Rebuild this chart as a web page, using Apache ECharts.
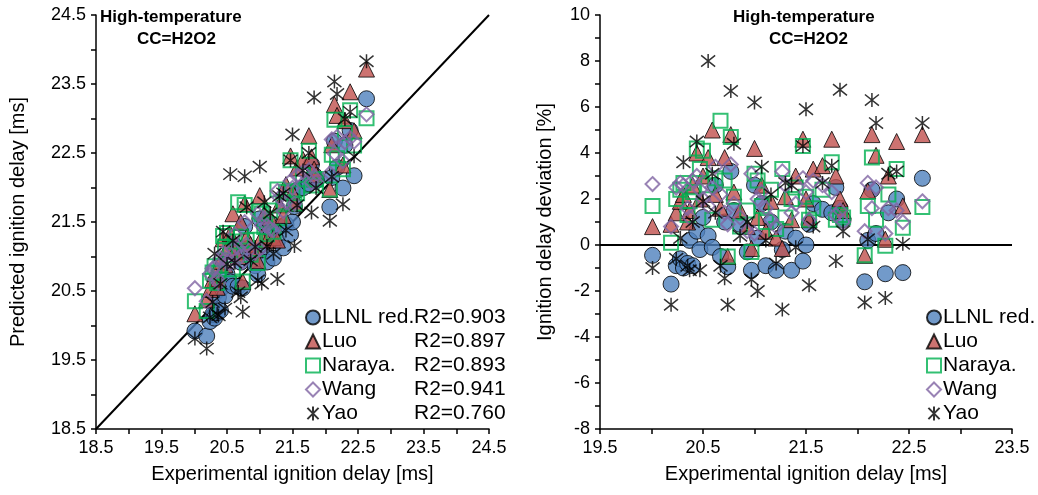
<!DOCTYPE html>
<html>
<head>
<meta charset="utf-8">
<script src="https://cdn.jsdelivr.net/npm/echarts@6/dist/echarts.min.js"></script>
<style>
  html, body { margin: 0; padding: 0; background: #fff; }
  #main { width: 1038px; height: 495px; }
</style>
</head>
<body>
<div id="main"></div>
<script>
// experimental ignition delay of every test point [ms]
var expDelay = [20.01, 20.19, 20.24, 20.28, 20.31, 20.35, 20.37, 20.40, 20.44, 20.47,
  20.50, 20.55, 20.59, 20.62, 20.67, 20.71, 20.74, 20.77, 20.80, 20.86,
  20.93, 20.97, 21.00, 21.03, 21.07, 21.11, 21.16, 21.21, 21.27, 21.30,
  21.36, 21.40, 21.47, 21.50, 21.53, 21.57, 21.66, 21.75, 21.79, 21.83,
  21.86, 22.07, 22.10, 22.14, 22.18, 22.27, 22.30, 22.38, 22.44, 22.63];

// deviation of each mechanism from experiment [%]
var devLLNL = [-0.45, -1.7, -0.9, -0.6, -1.0, -0.8, 0.2, -0.9, 0.6, -0.2,
  1.2, 0.4, -0.1, 2.6, -0.5, 1.0, -0.95, 3.2, 1.5, 0.9,
  -0.3, -1.1, 2.6, 0.3, 1.8, -0.9, 1.0, -1.1, -0.2, 0.6,
  -1.1, 0.3, -0.7, 0.0, 0.9, 1.8, 1.55, 1.4, 2.5, 1.6,
  1.1, -1.6, 0.2, 2.4, 0.5, -1.25, 1.4, 2.0, -1.2, 2.9];
var devLuo = [0.8, 0.9, 1.4, 1.9, 2.2, 1.0, 1.5, 2.6, 4.0, 2.0,
  3.0, 3.8, 5.0, 2.2, 1.6, 3.8, -0.5, 4.8, 2.3, 1.5,
  0.8, -0.15, 4.2, 1.2, 2.6, 0.6, 1.9, 0.3, -0.15, 2.1,
  1.1, 3.0, 4.6, 2.0, 1.1, 3.3, 3.45, 4.6, 3.0, 2.0,
  1.5, -0.45, 2.35, 4.8, 3.9, 0.25, 3.0, 4.5, 1.7, 4.8];
var devNaraya = [1.7, 0.1, 2.0, 2.4, 2.7, 1.3, 1.9, 2.3, 4.2, 3.3,
  4.1, 2.6, 1.1, 2.9, 5.4, 2.8, -0.5, 4.7, 2.1, 0.8,
  1.5, -0.3, 3.1, 2.8, 1.7, 1.0, 2.4, 0.7, 3.3, 1.2,
  2.0, 2.5, 4.3, 2.1, 1.1, 1.6, 2.4, 3.6, 1.1, 1.3,
  1.2, -0.45, 1.7, 3.8, 1.1, -0.03, 2.2, 3.3, 0.75, 1.65];
var devWang = [2.65, 0.8, 2.5, 2.7, 2.6, 1.6, 1.2, 2.8, 3.0, 2.4,
  2.0, 1.7, 2.5, 3.4, 2.2, 1.4, 0.9, 3.5, 1.8, 1.2,
  0.6, 3.1, 0.5, 2.0, 2.3, 1.6, 1.1, 0.8, 3.2, 2.6,
  1.4, 1.8, 2.9, 2.3, 1.1, 2.8, 2.6, 2.3, 1.3, 1.5,
  1.0, 0.6, 2.7, 1.6, 2.5, 0.5, 1.6, 1.5, 1.0, 1.9];
var devYao = [-1.0, -2.6, -0.6, 0.3, 3.6, -0.9, -1.1, 1.0, 4.5, -1.1,
  1.9, 8.0, 3.1, 1.4, -0.9, -1.45, -2.6, 6.7, 4.4, 0.4,
  1.0, -1.5, 6.2, -2.0, 3.4, 0.2, 2.2, -0.8, -2.8, 2.7,
  2.6, -0.1, 4.3, 5.9, -1.75, 0.8, 2.7, 3.45, -0.7, 6.75,
  0.6, -2.5, 0.25, 6.3, 5.3, -2.3, 3.1, 3.2, 0.05, 5.3];

var models = ["LLNL red.", "Luo", "Naraya.", "Wang", "Yao"];
var r2 = ["0.903", "0.897", "0.893", "0.941", "0.760"];
var devs = [devLLNL, devLuo, devNaraya, devWang, devYao];

var parityLine = [[18.5, 18.5], [24.5, 24.5]];
var zeroLine = [[19.5, 0], [23.5, 0]];

var FONT = "Liberation Sans";

// marker look for every mechanism
var looks = [
  { symbol: "circle", size: 16, itemStyle: { color: "#4F81BD", borderColor: "#000", borderWidth: 1 } },
  { symbol: "triangle", size: 16, itemStyle: { color: "#C0504D", borderColor: "#000", borderWidth: 1 } },
  { symbol: "rect", size: 14, itemStyle: { color: "rgba(0,0,0,0)", borderColor: "#00B050", borderWidth: 2 } },
  { symbol: "diamond", size: 14, itemStyle: { color: "rgba(0,0,0,0)", borderColor: "#8064A2", borderWidth: 2 } },
  { symbol: "path://M1,1L9,9M9,1L1,9M5,0L5,10", size: 14, itemStyle: { color: "rgba(0,0,0,0)", borderColor: "#000", borderWidth: 1.5 } },
];

function halfLabel(start, dec) {
  return function (v) {
    var k = Math.round((v - start) * 2);
    return k % 2 === 0 ? v.toFixed(dec) : "";
  };
}

function valueAxis(grid, min, max, interval, fmt, name, gap) {
  return {
    type: "value", gridIndex: grid, min: min, max: max, interval: interval,
    name: name, nameLocation: "middle", nameGap: gap,
    nameTextStyle: { fontFamily: FONT, fontSize: 20, color: "#000" },
    axisLine: { onZero: false, lineStyle: { color: "#000", width: 1.5 } },
    axisTick: { show: true, inside: false, length: 5, lineStyle: { color: "#000", width: 1.5 } },
    axisLabel: { fontFamily: FONT, fontSize: 18, color: "#000", margin: 10, formatter: fmt },
    splitLine: { show: false },
  };
}

var series = [
  { type: "line", xAxisIndex: 0, yAxisIndex: 0, data: parityLine, symbol: "none", silent: true,
    lineStyle: { color: "#000", width: 2 }, z: 1 },
  { type: "line", xAxisIndex: 1, yAxisIndex: 1, data: zeroLine, symbol: "none", silent: true,
    lineStyle: { color: "#000", width: 2 }, z: 1 },
];

models.forEach(function (name, m) {
  // left: predicted delay follows from experiment and deviation
  var parity = expDelay.map(function (x, i) { return [x, x * (1 + devs[m][i] / 100)]; });
  var dev = expDelay.map(function (x, i) { return [x, devs[m][i]]; });
  [parity, dev].forEach(function (d, g) {
    series.push({
      name: name, type: "scatter", xAxisIndex: g, yAxisIndex: g, data: d,
      symbol: looks[m].symbol, symbolSize: looks[m].size, itemStyle: looks[m].itemStyle, z: 2 + m,
    });
  });
});

var legendText = { fontFamily: FONT, fontSize: 21, lineHeight: 20, color: "#000", padding: [0, 0, 0, -3] };

var option = {
  animation: false,
  backgroundColor: "#fff",
  grid: [
    { left: 96, top: 15, width: 393, height: 414 },
    { left: 600, top: 15, width: 412, height: 414 },
  ],
  xAxis: [
    valueAxis(0, 18.5, 24.5, 0.5, halfLabel(18.5, 1), "Experimental ignition delay [ms]", 35),
    valueAxis(1, 19.5, 23.5, 0.5, halfLabel(19.5, 1), "Experimental ignition delay [ms]", 35),
  ],
  yAxis: [
    valueAxis(0, 18.5, 24.5, 0.5, halfLabel(18.5, 1), "Predicted ignition delay [ms]", 68),
    valueAxis(1, -8, 10, 1, function (v) { return v % 2 === 0 ? String(v) : ""; }, "Ignition delay deviation [%]", 45),
  ],
  legend: [
    {
      orient: "vertical", left: 300, top: 302, itemWidth: 14, itemHeight: 14, itemGap: 3,
      data: models,
      textStyle: Object.assign({}, legendText, {
        rich: { n: { fontFamily: FONT, fontSize: 21, width: 92 }, r: { fontFamily: FONT, fontSize: 21 } } }),
      formatter: function (name) { return "{n|" + name + "}{r|R2=" + r2[models.indexOf(name)] + "}"; },
    },
    {
      orient: "vertical", left: 921, top: 302, itemWidth: 14, itemHeight: 14, itemGap: 3,
      data: models,
      textStyle: legendText,
    },
  ],
  graphic: [
    { type: "text", left: 100, top: 9, style: { text: "High-temperature", font: "bold 17px " + FONT, fill: "#000" } },
    { type: "text", left: 137, top: 31, style: { text: "CC=H2O2", font: "bold 17px " + FONT, fill: "#000" } },
    { type: "text", left: 733, top: 9, style: { text: "High-temperature", font: "bold 17px " + FONT, fill: "#000" } },
    { type: "text", left: 769, top: 31, style: { text: "CC=H2O2", font: "bold 17px " + FONT, fill: "#000" } },
  ],
  series: series,
};

var myChart = echarts.init(document.getElementById("main"));
myChart.setOption(option);
</script>
</body>
</html>
